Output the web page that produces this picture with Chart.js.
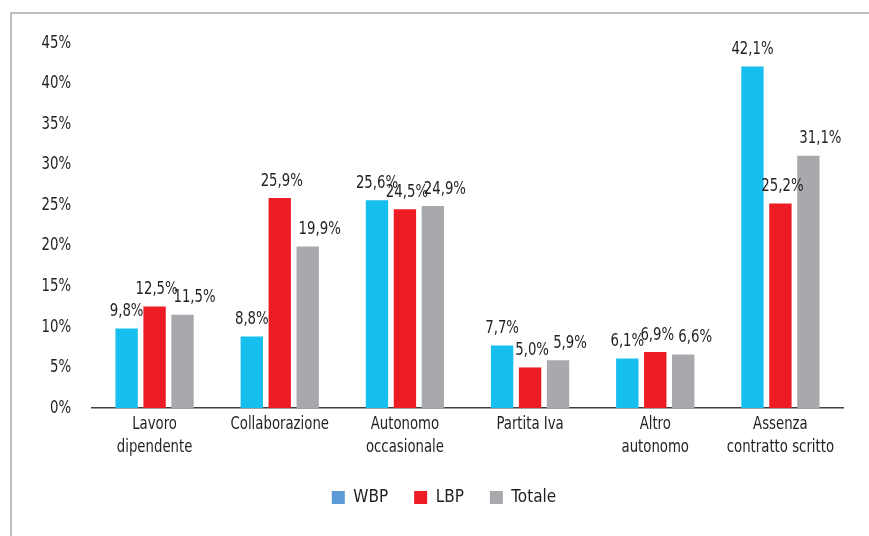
<!DOCTYPE html>
<html>
<head>
<meta charset="utf-8">
<script src="https://cdn.jsdelivr.net/npm/chart.js@4"></script>
<style>
  html, body { margin: 0; padding: 0; background: #fff; }
  #wrap { position: relative; width: 869px; height: 536px; }
  #frame { position: absolute; left: 10px; top: 12px; right: -2px; bottom: -2px;
           border-left: 2px solid #bfbfbf; border-top: 2px solid #bfbfbf; }
  canvas { position: absolute; left: 0; top: 0; }
</style>
</head>
<body>
<div id="wrap">
  <div id="frame"></div>
  <canvas id="chart_lavoro" width="869" height="536"></canvas>
</div>
<script>
const categories = [["Lavoro", "dipendente"], ["Collaborazione"], ["Autonomo", "occasionale"],
                    ["Partita Iva"], ["Altro", "autonomo"], ["Assenza", "contratto scritto"]];
const wbp = [9.8, 8.8, 25.6, 7.7, 6.1, 42.1];
const lbp = [12.5, 25.9, 24.5, 5.0, 6.9, 25.2];
const totale = [11.5, 19.9, 24.9, 5.9, 6.6, 31.1];
const yTicks = [0, 5, 10, 15, 20, 25, 30, 35, 40, 45];

const fontFam = "'Liberation Sans Narrow', 'DejaVu Sans Condensed', Roboto, sans-serif";
const textColor = "#231f20";
Chart.defaults.font.family = fontFam;
Chart.defaults.color = textColor;

const legendColors = ["#5b9bd5", "#ed1c24", "#a7a9ac"];
const labelShift = [0, 2, 12];

// condensed-looking text: squeeze horizontally
function narrowText(ctx, txt, x, y, align) {
  ctx.save();
  ctx.translate(x, y);
  ctx.scale(0.82, 1);
  ctx.textAlign = align;
  ctx.fillText(txt, 0, 0);
  ctx.restore();
}

const narrowLabels = {
  id: "narrowLabels",
  afterDatasetsDraw(chart) {
    const ctx = chart.ctx;
    const xs = chart.scales.x, ys = chart.scales.y;
    ctx.save();
    ctx.font = "18px " + fontFam;
    ctx.fillStyle = textColor;
    ctx.textBaseline = "middle";
    // y ticks
    yTicks.forEach(v => narrowText(ctx, v + "%", 71, ys.getPixelForValue(v), "right"));
    // x ticks
    categories.forEach((lines, i) => {
      lines.forEach((ln, k) => narrowText(ctx, ln, xs.getPixelForTick(i), ys.bottom + 16 + k * 23, "center"));
    });
    // values above bars, comma as decimal separator
    ctx.textBaseline = "bottom";
    chart.data.datasets.forEach((ds, i) => {
      chart.getDatasetMeta(i).data.forEach((bar, j) => {
        const txt = ds.data[j].toFixed(1).replace(".", ",") + "%";
        narrowText(ctx, txt, bar.x + labelShift[i], bar.y - 8, "center");
      });
    });
    ctx.restore();
  }
};

const chart_lavoro = new Chart("chart_lavoro", {
  type: "bar",
  data: {
    labels: categories,
    datasets: [
      { label: "WBP", data: wbp, backgroundColor: "#17bfef" },
      { label: "LBP", data: lbp, backgroundColor: "#ed1c24" },
      { label: "Totale", data: totale, backgroundColor: "#a7a9ac" }
    ]
  },
  options: {
    responsive: false,
    animation: false,
    layout: { padding: { left: 45, right: 26, top: 43, bottom: 20 } },
    datasets: { bar: { categoryPercentage: 0.67, barPercentage: 0.8 } },
    scales: {
      x: {
        grid: { display: false, drawTicks: false },
        border: { display: true, color: "#404040", width: 1.5 },
        ticks: { display: false },
        afterFit: s => { s.height = 55; }
      },
      y: {
        min: 0, max: 45,
        afterBuildTicks: s => { s.ticks = yTicks.map(v => ({ value: v })); },
        grid: { display: false, drawTicks: false },
        border: { display: false },
        ticks: { display: false },
        afterFit: s => { s.width = 47; }
      }
    },
    plugins: {
      tooltip: { enabled: false },
      legend: {
        position: "bottom",
        labels: {
          font: { size: 17 },
          boxWidth: 13, boxHeight: 13, padding: 26,
          generateLabels: chart => chart.data.datasets.map((ds, i) => ({
            text: ds.label, fillStyle: legendColors[i], strokeStyle: legendColors[i],
            lineWidth: 0, fontColor: textColor, datasetIndex: i
          }))
        }
      }
    }
  },
  plugins: [narrowLabels]
});
</script>
</body>
</html>
